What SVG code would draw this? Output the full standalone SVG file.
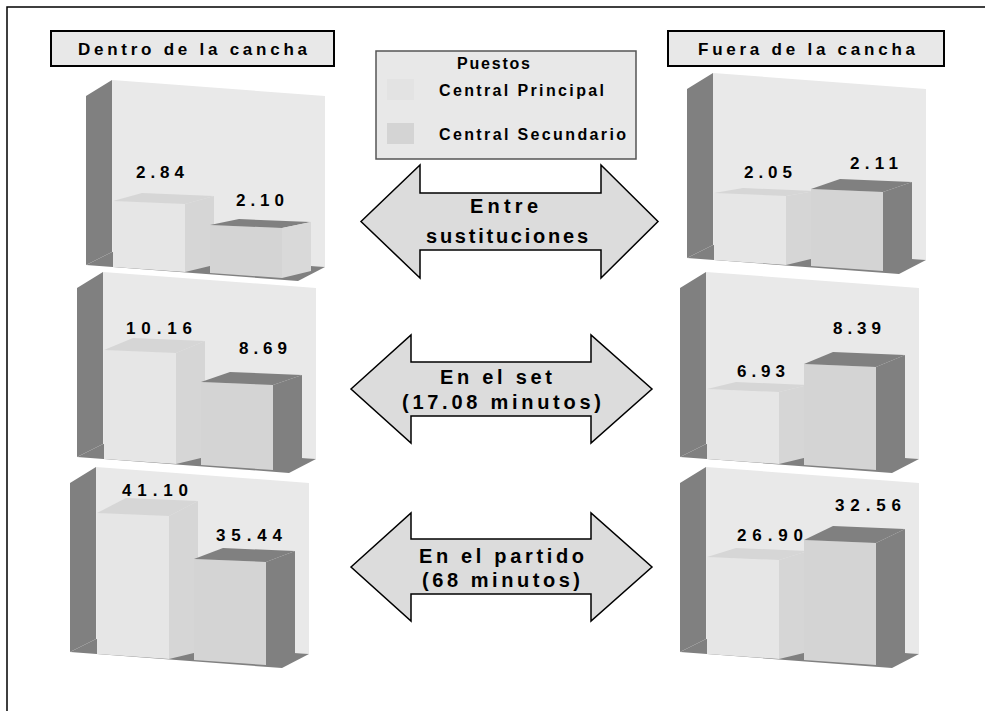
<svg xmlns="http://www.w3.org/2000/svg" xmlns:xlink="http://www.w3.org/1999/xlink" width="985" height="711" viewBox="0 0 985 711">
<style>
.t{font-family:"Liberation Sans",Arial,sans-serif;font-weight:bold;fill:#000}
.ttl{font-size:17px}
.lg{font-size:16px}
.val{font-size:17px;text-anchor:middle}
.arr{font-size:20px}
.box{fill:#e8e8e8;stroke:#000;stroke-width:2}
.wall{fill:#e9e9e9}
.dark{fill:#808080}
.pf{fill:#e6e6e6}
.pt{fill:#d6d6d6}
.sf{fill:#d4d4d4}
.ss{fill:#808080}
.sl{fill:#d9d9d9}
.ba{fill:#dcdcdc;stroke:#000;stroke-width:1.5;stroke-linejoin:miter}
</style>
<defs>
<g id="frame3d">
<polygon class="wall" points="112,80 325,96 325,267 112,252"/>
<polygon class="dark" points="86,96 112,80 112,252 86,265"/>
<polygon class="dark" points="86,265 112,252 325,267 298,281"/>
</g>
</defs>
<rect x="7" y="7" width="1100" height="1100" fill="#fff" stroke="#000" stroke-width="1.5"/>

<g id="title-dentro">
<rect class="box" x="51" y="31" width="283" height="35"/>
<text class="t ttl" x="78" y="55" textLength="229" lengthAdjust="spacing">Dentro de la cancha</text>
</g>
<g id="title-fuera">
<rect class="box" x="668" y="31" width="276" height="35"/>
<text class="t ttl" x="698" y="55" textLength="217" lengthAdjust="spacing">Fuera de la cancha</text>
</g>

<g id="legend">
<rect x="376" y="51" width="260" height="108" fill="#e8e8e8" stroke="#555" stroke-width="1.5"/>
<text class="t lg" x="457" y="69" textLength="73" lengthAdjust="spacing">Puestos</text>
<rect x="387" y="79" width="27" height="21" fill="#e3e3e3"/>
<text class="t lg" x="439" y="96" textLength="165" lengthAdjust="spacing">Central Principal</text>
<rect x="387" y="123" width="27" height="21" fill="#d4d4d4"/>
<text class="t lg" x="439" y="140" textLength="187" lengthAdjust="spacing">Central Secundario</text>
</g>

<g id="chart-dentro-sustituciones">
<use xlink:href="#frame3d"/>
<polygon class="pf" points="113,201 185,204 185,272 113,267"/>
<polygon class="pt" points="113,201 185,204 214,196 142,193"/>
<polygon class="pt" points="185,204 214,196 214,265 185,272"/>
<polygon class="sf" points="210,225 282,228 282,278 210,273"/>
<polygon class="ss" points="210,225 282,228 311,222 239,219"/>
<polygon class="sl" points="282,228 311,222 311,271 282,278"/>
<text class="t val" x="160" y="178" textLength="48" lengthAdjust="spacing">2.84</text>
<text class="t val" x="260" y="206" textLength="48" lengthAdjust="spacing">2.10</text>
</g>

<g id="chart-dentro-set" transform="translate(-9,192)">
<use xlink:href="#frame3d"/>
<polygon class="pf" points="113,158 185,161 185,272 113,267"/>
<polygon class="pt" points="113,158 185,161 214,149 142,146"/>
<polygon class="pt" points="185,161 214,149 214,265 185,272"/>
<polygon class="sf" points="210,190 282,193 282,278 210,273"/>
<polygon class="ss" points="210,190 282,193 311,183 239,180"/>
<polygon class="ss" points="282,193 311,183 311,271 282,278"/>
<text class="t val" x="168" y="142" textLength="66" lengthAdjust="spacing">10.16</text>
<text class="t val" x="272" y="162" textLength="48" lengthAdjust="spacing">8.69</text>
</g>

<g id="chart-dentro-partido" transform="translate(-16,387)">
<use xlink:href="#frame3d"/>
<polygon class="pf" points="113,126 185,129 185,272 113,267"/>
<polygon class="pt" points="113,126 185,129 214,114 142,111"/>
<polygon class="pt" points="185,129 214,114 214,265 185,272"/>
<polygon class="sf" points="210,172 282,175 282,278 210,273"/>
<polygon class="ss" points="210,172 282,175 311,164 239,161"/>
<polygon class="ss" points="282,175 311,164 311,271 282,278"/>
<text class="t val" x="171" y="109" textLength="66" lengthAdjust="spacing">41.10</text>
<text class="t val" x="265" y="154" textLength="66" lengthAdjust="spacing">35.44</text>
</g>

<g id="chart-fuera-sustituciones" transform="translate(601,-7)">
<use xlink:href="#frame3d"/>
<polygon class="pf" points="113,200 185,203 185,272 113,267"/>
<polygon class="pt" points="113,200 185,203 214,198 142,195"/>
<polygon class="pt" points="185,203 214,198 214,265 185,272"/>
<polygon class="sf" points="210,196 282,199 282,278 210,273"/>
<polygon class="ss" points="210,196 282,199 311,189 239,186"/>
<polygon class="ss" points="282,199 311,189 311,271 282,278"/>
<text class="t val" x="167" y="185" textLength="48" lengthAdjust="spacing">2.05</text>
<text class="t val" x="273" y="176" textLength="48" lengthAdjust="spacing">2.11</text>
</g>

<g id="chart-fuera-set" transform="translate(594,192)">
<use xlink:href="#frame3d"/>
<polygon class="pf" points="113,197 185,200 185,272 113,267"/>
<polygon class="pt" points="113,197 185,200 214,193 142,190"/>
<polygon class="pt" points="185,200 214,193 214,265 185,272"/>
<polygon class="sf" points="210,172 282,175 282,278 210,273"/>
<polygon class="ss" points="210,172 282,175 311,163 239,160"/>
<polygon class="ss" points="282,175 311,163 311,271 282,278"/>
<text class="t val" x="167" y="185" textLength="48" lengthAdjust="spacing">6.93</text>
<text class="t val" x="263" y="142" textLength="48" lengthAdjust="spacing">8.39</text>
</g>

<g id="chart-fuera-partido" transform="translate(594,387)">
<use xlink:href="#frame3d"/>
<polygon class="pf" points="113,170 185,173 185,272 113,267"/>
<polygon class="pt" points="113,170 185,173 214,164 142,161"/>
<polygon class="pt" points="185,173 214,164 214,265 185,272"/>
<polygon class="sf" points="210,153 282,156 282,278 210,273"/>
<polygon class="ss" points="210,153 282,156 311,142 239,139"/>
<polygon class="ss" points="282,156 311,142 311,271 282,278"/>
<text class="t val" x="176" y="154" textLength="66" lengthAdjust="spacing">26.90</text>
<text class="t val" x="274" y="124" textLength="66" lengthAdjust="spacing">32.56</text>
</g>

<g id="connectors">
<g id="arrow-sustituciones">
<polygon class="ba" points="361,221.5 420,165 420,193 601,193 601,165 658,221.5 601,278 601,250 420,250 420,278"/>
<text class="t arr" x="470" y="213" textLength="68" lengthAdjust="spacing">Entre</text>
<text class="t arr" x="426" y="243" textLength="162" lengthAdjust="spacing">sustituciones</text>
</g>
<g id="arrow-set">
<polygon class="ba" points="351,389 411,335 411,362 591,362 591,335 652,389 591,443 591,416 411,416 411,443"/>
<text class="t arr" x="440" y="384" textLength="112" lengthAdjust="spacing">En el set</text>
<text class="t arr" x="402" y="409" textLength="199" lengthAdjust="spacing">(17.08 minutos)</text>
</g>
<g id="arrow-partido">
<polygon class="ba" points="351,567 411,513 411,539 591,539 591,513 652,567 591,621 591,594 411,594 411,621"/>
<text class="t arr" x="419" y="563" textLength="165" lengthAdjust="spacing">En el partido</text>
<text class="t arr" x="422" y="587" textLength="158" lengthAdjust="spacing">(68 minutos)</text>
</g>
</g>
</svg>
